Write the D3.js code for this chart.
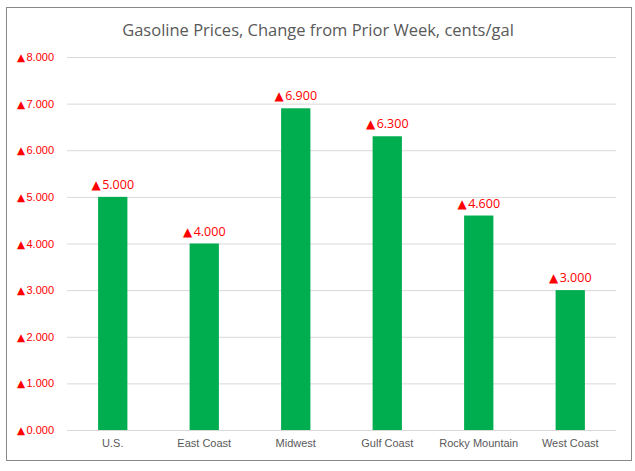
<!DOCTYPE html>
<html><head><meta charset="utf-8">
<script src="https://cdn.jsdelivr.net/npm/d3@7"></script>
<style>body{margin:0;background:#fff;} svg{display:block;font-family:"Open Sans",sans-serif;}</style>
</head><body><svg id="c" width="635" height="471"></svg>
<script>
const categories = ["U.S.", "East Coast", "Midwest", "Gulf Coast", "Rocky Mountain", "West Coast"];
const values = [5.0, 4.0, 6.9, 6.3, 4.6, 3.0];
const yTicks = [0, 1, 2, 3, 4, 5, 6, 7, 8];
const title = "Gasoline Prices, Change from Prior Week, cents/gal";

(function () {
const svg = d3.select("#c");
svg.append("rect").attr("x", 6.5).attr("y", 7.5).attr("width", 625).attr("height", 453)
  .attr("fill", "#fff").attr("stroke", "#898989").attr("stroke-width", 1);

const mL = 67, mR = 616, mT = 57, mB = 430;
const x = d3.scaleBand().domain(categories).range([mL, mR]).paddingInner(0.68).paddingOuter(0.34);
const y = d3.scaleLinear().domain([0, 8]).range([mB, mT]);
const fmt = d3.format(".3f");

function arrowText(sel, triSize) {
  sel.each(function (d) {
    const t = d3.select(this);
    t.text(null);
    t.append("tspan").attr("font-family", "DejaVu Sans").attr("font-size", triSize).text("\u25B2");
    t.append("tspan").attr("dx", 1.5).text(fmt(d));
  });
}

const yAxis = d3.axisLeft(y).tickValues(yTicks).tickSize(-(mR - mL)).tickFormat(fmt);
const gy = svg.append("g").attr("transform", `translate(${mL},0)`).call(yAxis);
gy.select(".domain").remove();
gy.selectAll(".tick line").attr("stroke", "#d9d9d9");
gy.selectAll(".tick text").attr("fill", "#ff0000").attr("font-size", 11).attr("x", -13).call(arrowText, 10.5);

const xAxis = d3.axisBottom(x).tickSize(0);
const gx = svg.append("g").attr("transform", `translate(0,${mB})`).call(xAxis);
gx.select(".domain").remove();
gx.selectAll(".tick text").attr("fill", "#595959").attr("font-size", 11).attr("dy", "1.25em");

svg.append("g").selectAll("rect").data(values).join("rect")
  .attr("x", (d, i) => x(categories[i])).attr("width", x.bandwidth())
  .attr("y", d => y(d)).attr("height", d => y(0) - y(d)).attr("fill", "#00ad4f");

svg.append("g").selectAll("text").data(values).join("text")
  .attr("x", (d, i) => x(categories[i]) + x.bandwidth() / 2)
  .attr("y", d => y(d) - 8).attr("text-anchor", "middle")
  .attr("fill", "#ff0000").attr("font-size", 12.5).call(arrowText, 12);

svg.append("text").attr("x", 318).attr("y", 36).attr("text-anchor", "middle")
  .attr("fill", "#595959").attr("font-size", 16.5).text(title);
})();
</script></body></html>
